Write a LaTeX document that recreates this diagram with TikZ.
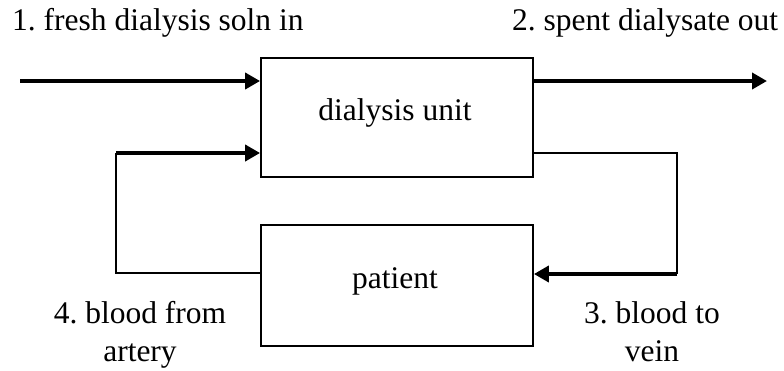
\documentclass[tikz,border=0pt]{standalone}
\usepackage{fontspec}
\setmainfont{Liberation Serif}
\usetikzlibrary{arrows.meta}
\frenchspacing

\tikzset{
  box/.style={draw, line width=1.8pt, minimum width=272pt, inner sep=0pt},
  flow/.style={line width=4pt, -{Triangle[length=15pt,width=16pt]}},
  pipe/.style={line width=1.8pt},
  txt/.style={font=\fontsize{31.5}{37.8}\selectfont, inner sep=0pt},
}

\begin{document}
\begin{tikzpicture}[x=1pt,y=-1pt]

		\useasboundingbox (0,0) rectangle (784,370);

		% boxes
		\node[box, minimum height=119pt] (dia) at (397,117.5) {};
		\node[box, minimum height=121pt] (pat) at (397,285.5) {};
		\node[txt, anchor=base] (dialbl) at (395,120) {dialysis unit};
		\node[txt, anchor=base] (patlbl) at (395,288) {patient};

		% dialysate in and out
		\coordinate (in) at (20,81);
		\coordinate (out) at (767,81);
		\draw[flow] (in) -- (in -| dia.west);
		\draw[flow] (dia.east |- out) -- (out);

		% blood loop
		\coordinate (rtop) at (677,153);
		\coordinate (rbot) at (677,274);
		\coordinate (ltop) at (116,153);
		\coordinate (lbot) at (116,273);
		\draw[pipe] (dia.east |- rtop) -- (rtop) -- (rbot);
		\draw[flow] (rbot) -- (rbot -| pat.east);
		\draw[pipe] (pat.west |- lbot) -- (lbot) -- (ltop);
		\draw[flow] (ltop) -- (ltop -| dia.west);

		\node[txt, anchor=base west] (n1) at (12,30) {1. fresh dialysis soln in};
		\node[txt, anchor=base west] (n2) at (512,30) {2. spent dialysate out};
		\node[txt, anchor=base, align=center] (n3) at (652,361) {3. blood to\\vein};
		\node[txt, anchor=base, align=center] (n4) at (140,361) {4. blood from\\artery};
	\end{tikzpicture}
\end{document}
